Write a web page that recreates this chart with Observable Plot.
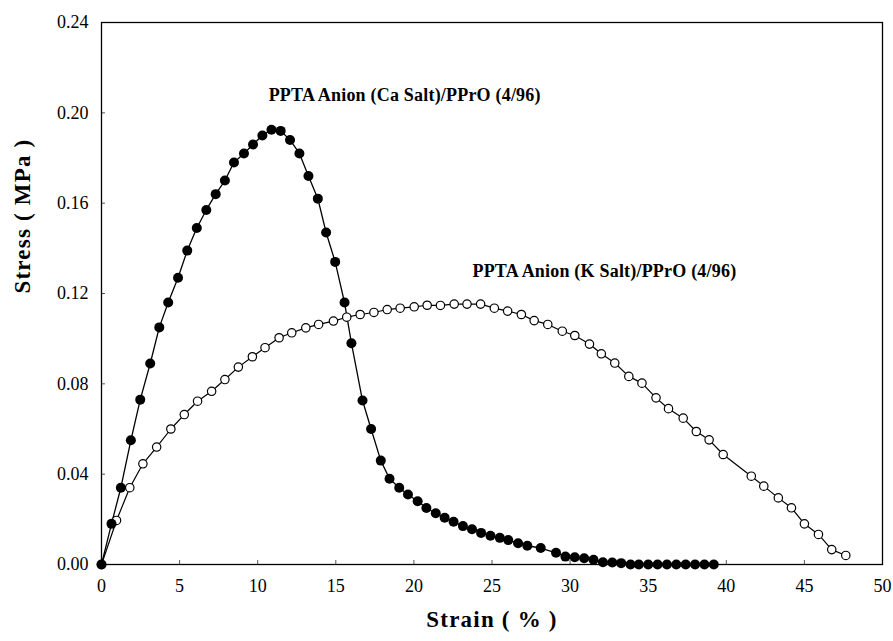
<!DOCTYPE html>
<html><head><meta charset="utf-8">
<script src="https://cdn.jsdelivr.net/npm/d3@7"></script>
<script src="https://cdn.jsdelivr.net/npm/@observablehq/plot@0.6"></script>
<style>body{margin:0;background:#fff} svg{display:block}</style>
</head><body><div id="chart"></div>
<script>
// PPTA Anion (Ca Salt)/PPrO (4/96) — filled circles
const caStrain = [0,0.64,1.24,1.88,2.48,3.12,3.70,4.27,4.90,5.49,6.10,6.71,7.31,7.90,8.48,9.12,9.70,10.30,10.88,11.47,12.07,12.67,13.25,13.85,14.38,14.96,15.56,16.0,16.71,17.26,17.88,18.44,19.06,19.62,20.24,20.80,21.40,21.97,22.54,23.14,23.72,24.30,24.90,25.50,26.04,26.67,27.26,28.12,29.10,29.70,30.30,30.90,31.50,32.10,32.70,33.27,33.87,34.40,35.00,35.60,36.20,36.80,37.40,38.00,38.60,39.20];
const caStress = [0,0.018,0.034,0.055,0.073,0.089,0.105,0.116,0.127,0.139,0.149,0.157,0.164,0.170,0.178,0.182,0.186,0.190,0.1925,0.192,0.188,0.182,0.172,0.162,0.147,0.134,0.116,0.098,0.0726,0.060,0.046,0.038,0.034,0.031,0.028,0.025,0.0227,0.0207,0.0189,0.017,0.0156,0.014,0.0127,0.0118,0.0108,0.0094,0.0083,0.0073,0.0052,0.0035,0.0032,0.0028,0.0021,0.0010,0.0009,0.0006,0,0,0,0,0,0,0,0,0,0];
// PPTA Anion (K Salt)/PPrO (4/96) — open circles
const kStrain = [0,0.96,1.81,2.65,3.53,4.44,5.30,6.15,7.05,7.90,8.76,9.66,10.47,11.37,12.18,13.08,13.90,14.85,15.70,16.56,17.44,18.29,19.12,20.02,20.85,21.70,22.58,23.40,24.27,25.15,26.00,26.88,27.70,28.57,29.50,30.30,31.24,32.00,32.86,33.76,34.60,35.50,36.30,37.24,38.08,38.90,39.80,41.60,42.40,43.33,44.17,45.00,45.90,46.75,47.65];
const kStress = [0,0.0195,0.034,0.0446,0.052,0.060,0.0664,0.0723,0.0767,0.0819,0.0874,0.092,0.096,0.1004,0.1026,0.1048,0.1063,0.1078,0.1095,0.1107,0.1116,0.1129,0.1135,0.1141,0.1148,0.1147,0.1153,0.1153,0.1153,0.1135,0.1122,0.1107,0.108,0.1063,0.1033,0.1014,0.0976,0.0933,0.0892,0.0833,0.0803,0.0738,0.069,0.0648,0.0589,0.0552,0.0487,0.0391,0.0347,0.0295,0.0251,0.018,0.0133,0.0066,0.004];

const xTicks = [0,5,10,15,20,25,30,35,40,45,50];
const yTicks = [0,0.04,0.08,0.12,0.16,0.20,0.24];
const xTitle = "Strain ( % )";
const yTitle = "Stress ( MPa )";
const seriesLabels = ["PPTA Anion (Ca Salt)/PPrO (4/96)", "PPTA Anion (K Salt)/PPrO (4/96)"];
const labelX = [10.7, 23.75];
const labelY = [0.2077, 0.1298];

const ca = caStrain.map((x, i) => ({x, y: caStress[i]}));
const k = kStrain.map((x, i) => ({x, y: kStress[i]}));
const notes = seriesLabels.map((t, i) => ({t, x: labelX[i], y: labelY[i]}));

const font = "'Liberation Serif','Times New Roman',Times,serif";

const chart = Plot.plot({
  width: 893, height: 641,
  marginLeft: 101, marginRight: 11, marginTop: 22, marginBottom: 77,
  style: {fontFamily: font, fontSize: "18px", color: "#000", background: "#fff", overflow: "visible"},
  x: {domain: [0, 50]},
  y: {domain: [0, 0.24]},
  marks: [
    Plot.axisX({ticks: xTicks, tickSize: -4, tickFormat: () => "", label: null, stroke: "#555"}),
    Plot.axisY({ticks: yTicks, tickSize: -4, tickFormat: () => "", label: null, stroke: "#555"}),
    Plot.axisX({ticks: xTicks, tickSize: 0, tickPadding: 15, tickFormat: d => String(d), label: null}),
    Plot.axisY({ticks: yTicks, tickSize: 0, tickPadding: 13, tickFormat: d3.format(".2f"), label: null}),
    Plot.frame({stroke: "#000", strokeWidth: 1.3}),
    Plot.line(k, {x: "x", y: "y", stroke: "#000", strokeWidth: 1.2}),
    Plot.line(ca, {x: "x", y: "y", stroke: "#000", strokeWidth: 1.3}),
    Plot.dot(k, {x: "x", y: "y", r: 4.2, fill: "#fff", stroke: "#000", strokeWidth: 1.2}),
    Plot.dot(ca, {x: "x", y: "y", r: 5, fill: "#000", stroke: "none"}),
    Plot.text(notes, {x: "x", y: "y", text: "t", textAnchor: "start", lineAnchor: "middle", fontSize: 18, fontWeight: "bold", fill: "#000"}),
    Plot.text([xTitle], {frameAnchor: "bottom", dy: 62, fontSize: 23, fontWeight: "bold", fill: "#000"}),
    Plot.text([yTitle], {frameAnchor: "left", dx: -79, rotate: -90, fontSize: 23, fontWeight: "bold", fill: "#000"})
  ]
});
// spacing to mimic the original typesetting
d3.select(chart).selectAll("text").each(function() {
  const t = this.textContent;
  if (t === xTitle || t === yTitle) this.setAttribute("letter-spacing", "1.2");
  else if (seriesLabels.includes(t)) this.setAttribute("letter-spacing", "0.2");
});
document.getElementById("chart").append(chart);
</script>
</body></html>
